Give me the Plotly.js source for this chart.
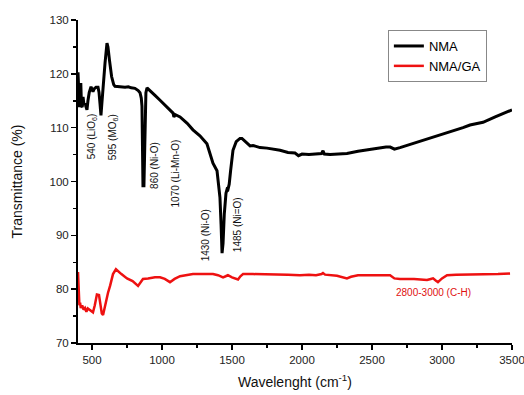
<!DOCTYPE html>
<html><head><meta charset="utf-8">
<script src="https://cdn.plot.ly/plotly-3.0.1.min.js"></script>
<style>html,body{margin:0;padding:0;background:#fff}#chart{width:524px;height:395px}</style>
</head><body><div id="chart"></div>
<script>
const nmaX = [400,405,410,415,420,425,430,436,443,450,458,464,471,480,493,500,507,515,529,543,550,557,564,572,579,593,607,614,625,640,655,664,700,736,760,780,807,830,843,852,857,861,864,871,875,879,885,893,920,950,986,1030,1079,1085,1095,1129,1180,1221,1271,1321,1350,1364,1393,1405,1414,1422,1429,1436,1445,1457,1465,1471,1480,1490,1507,1530,1557,1571,1600,1629,1650,1700,1750,1800,1843,1900,1950,1975,1986,2000,2050,2100,2140,2150,2160,2200,2250,2321,2400,2450,2500,2557,2600,2630,2660,2700,2750,2821,2900,2960,3057,3150,3200,3293,3380,3440,3500];
const nmaY = [120.3,116,113.8,117.5,118.3,114,113.8,115.7,114.2,114.5,113.5,113.3,115,116.5,117.6,117.2,116.7,117.2,117.5,117.5,116.6,114.5,112.3,115,117.6,122,125.7,125,122.5,119.5,118,117.7,117.6,117.5,117.6,117.4,117.3,116.9,116.5,115.5,114,105,99.2,99.2,105,112,116.5,117.4,116.8,116,115.1,114,112.7,112.0,112.4,112,110.8,109.6,108.5,107,104.8,103.4,102,99.5,97,92,86.7,88.5,94,97.8,98.6,98.5,99.5,102,105.8,107.4,108,108,107.3,106.6,106.7,106.3,106.2,106,105.8,105.4,105.3,104.8,104.9,105.1,105.0,105.1,105.2,105.7,105.1,105.0,105.1,105.2,105.6,105.8,106.1,106.3,106.4,106.4,106.0,106.3,106.7,107.3,108.0,108.5,109.2,110,110.5,111,112,112.6,113.3];

const gaX = [400,405,410,415,420,430,440,450,460,470,486,500,507,520,535,550,560,570,579,590,600,614,630,650,671,690,710,750,790,829,845,864,900,950,986,1020,1057,1090,1129,1180,1221,1300,1364,1400,1436,1455,1471,1500,1530,1543,1560,1579,1650,1700,1800,1900,1986,2050,2100,2140,2150,2165,2250,2321,2350,2400,2500,2600,2629,2660,2700,2800,2893,2920,2936,2955,2971,3000,3036,3100,3200,3300,3400,3486];
const gaY = [83.2,79,77,77.5,76.5,77,76.2,76.5,75.8,76.4,76.1,75.8,75.7,77,79,78.9,77,75.5,75.2,76.5,78,79.3,80.7,82.8,83.7,83.2,82.8,82,81.5,80.6,81.3,81.9,82,82.2,82.2,81.9,81.3,81.9,82.4,82.6,82.8,82.8,82.8,82.6,82.2,82.4,82.6,82.2,81.9,81.8,82.4,82.8,82.8,82.8,82.7,82.7,82.6,82.7,82.6,82.8,83.0,82.7,82.5,82.0,82.3,82.6,82.6,82.7,82.6,82.0,81.9,81.9,81.7,81.9,82.0,81.6,81.3,82.0,82.6,82.7,82.7,82.8,82.8,82.9];

const bandLabels = ["540 (LiO<sub>6</sub>)","595 (MO<sub>6</sub>)","860 (Ni-O)","1070 (Li-Mn-O)","1430 (Ni-O)","1485 (Ni=O)"];
const bandX = [500,650,950,1093,1307,1536];
const bandY = [108.4,108.2,102.9,101.5,90,91.9];
const chLabel = "2800-3000 (C-H)";
const chX = 2936, chY = 79.3;
const xTicks = [500,1000,1500,2000,2500,3000,3500];
const xMinor = [750,1250,1750,2250,2750,3250];

const annotations = bandLabels.map((t,i)=>({
  x: bandX[i], y: bandY[i], xref:'x', yref:'y', text:t, showarrow:false,
  textangle:-90, font:{family:'Liberation Sans, Arial, sans-serif', size:10, color:'#111'}
}));
annotations.push({x:chX, y:chY, xref:'x', yref:'y', text:chLabel, showarrow:false,
  font:{family:'Liberation Sans, Arial, sans-serif', size:10, color:'#e01010'}});

const data = [
  {x:nmaX, y:nmaY, type:'scatter', mode:'lines', name:'NMA', line:{color:'#000', width:3}},
  {x:gaX, y:gaY, type:'scatter', mode:'lines', name:'NMA/GA', line:{color:'#ee1111', width:2.5}}
];

const layout = {
  width:524, height:395,
  margin:{l:78, r:12, t:20, b:52},
  paper_bgcolor:'#fff', plot_bgcolor:'#fff',
  font:{family:'Liberation Sans, Arial, sans-serif', color:'#111'},
  showlegend:true,
  legend:{x:0.714, y:0.969, xanchor:'left', yanchor:'top', bordercolor:'#888', borderwidth:1,
    bgcolor:'#fff', font:{size:13, color:'#000'}, tracegroupgap:0},
  xaxis:{range:[400,3500], showgrid:false, zeroline:false, showline:true, linecolor:'#000', linewidth:2,
    ticks:'outside', ticklen:5, tickwidth:1.5, tickcolor:'#000', tickvals:xTicks,
    ticklabeloverflow:'allow',
    tickfont:{size:11.5, color:'#222'},
    minor:{tickvals:xMinor, ticks:'outside', ticklen:3, tickcolor:'#000', tickwidth:1.5},
    title:{text:'Wavelenght (cm<sup>-1</sup>)', font:{size:14, color:'#111'}, standoff:12}},
  yaxis:{range:[70,130], showgrid:false, zeroline:false, showline:true, linecolor:'#000', linewidth:2,
    ticks:'outside', ticklen:5, tickwidth:1.5, tickcolor:'#000', dtick:10, tick0:70,
    ticklabeloverflow:'allow',
    tickfont:{size:11.5, color:'#222'},
    minor:{dtick:5, tick0:75, ticks:'outside', ticklen:3, tickcolor:'#000', tickwidth:1.5},
    title:{text:'Transmittance (%)', font:{size:14, color:'#111'}, standoff:24}},
  annotations: annotations
};
Plotly.newPlot('chart', data, layout, {displayModeBar:false, staticPlot:true});
</script></body></html>
